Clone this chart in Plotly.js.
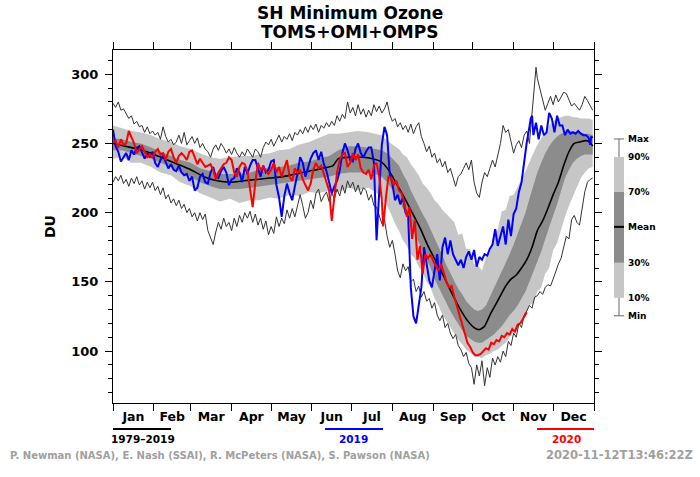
<!DOCTYPE html>
<html>
<head>
<meta charset="utf-8">
<script src="https://cdn.plot.ly/plotly-3.0.1.min.js"></script>
<style>
  html, body { margin: 0; padding: 0; background: #ffffff; }
  #chart { width: 700px; height: 477px; }
</style>
</head>
<body>
<div id="chart"></div>
<script>
// ---- Climatology 1979-2019: percentile envelope (DU) by day of year ----
const bandDays = [1,8,15,22,30,37,45,52,60,67,75,82,90,97,105,112,120,127,135,142,150,157,165,172,180,187,195,200,205,209,212,215,218,221,224,227,230,233,236,239,242,245,248,251,254,257,260,263,266,269,272,275,278,281,284,287,290,293,296,299,302,305,308,311,314,317,320,323,326,329,332,335,338,341,344,347,350,353,356,359,362,365];
const p10 = [239,240,236,236,233,229,227,222,219,214,211,208,210,207,209,209,211,210,213,212,215,214,216,215,218,216,218,215,211,205,199,192,187,180,176,170,167,161,157,150,146,138,133,126,122,117,113,108,105,101,99,96,96,95,97,98,100,101,104,106,110,114,115,123,125,133,135,143,146,156,160,173,178,188,197,205,212,219,225,229,232,233];
const p30 = [245,245,243,241,239,236,233,229,226,222,219,217,217,217,218,219,220,221,222,223,224,225,226,228,229,229,229,228,226,222,218,214,210,203,198,191,185,178,172,166,160,152,146,140,135,129,124,119,115,111,109,107,106,106,108,110,112,115,118,122,126,129,133,138,143,150,157,164,172,181,190,198,206,216,225,231,236,239,241,242,242,242];
const p70 = [254,253,251,250,247,244,241,238,236,232,230,228,228,228,229,231,233,233,234,236,237,239,241,245,248,248,247,246,245,243,240,237,234,228,223,216,210,205,199,194,188,182,176,169,162,156,150,145,141,136,133,130,129,130,133,139,145,151,157,164,170,177,185,193,200,210,220,229,236,243,248,252,255,257,258,259,259,258,258,257,257,256];
const p90 = [263,261,259,258,256,253,251,248,246,243,240,239,240,241,241,242,243,245,246,249,251,254,257,257,258,259,258,257,256,252,250,248,246,242,240,235,231,227,221,218,214,209,206,202,199,196,193,184,185,174,174,163,162,158,168,171,185,188,201,202,212,213,218,224,230,237,243,249,254,259,263,266,268,269,270,270,269,269,268,268,268,267];

// ---- Climatological mean ----
const meanDays = [1,10,20,30,40,50,60,70,80,90,100,110,120,130,140,150,160,168,172,180,190,198,204,210,216,222,228,234,240,246,252,258,264,270,275,279,283,287,291,295,299,303,307,311,315,319,323,327,331,335,339,343,347,351,355,360,363,365];
const meanDU = [250,248,246,243,239,235,231,226,223,222,223,224,225,226,228,230,232,234,239,240,240,239,237,231,221,211,200,189,176,165,154,142,131,122,117,115.5,118,126,133,140,147,152,155,160,166,175,187,194,203,213,222,234,244,250,251,252,251,248];

// ---- Record maximum 1979-2019 ----
const maxDays = [1,3,5,7,9,11,13,15,17,19,21,23,25,27,29,31,33,35,37,39,41,43,45,47,49,51,53,55,57,59,61,63,65,67,69,71,73,75,77,79,81,83,85,87,89,91,93,95,97,99,101,103,105,107,109,111,113,115,117,119,121,123,125,127,129,131,133,135,137,139,141,143,145,147,149,151,153,155,157,159,161,163,165,167,169,171,173,175,177,179,181,183,185,187,189,191,193,195,197,199,201,203,205,207,209,211,213,215,217,219,221,223,225,227,229,231,233,235,237,239,241,243,245,247,249,251,253,255,257,259,261,263,265,267,269,271,273,275,277,279,281,283,285,287,289,291,293,295,297,299,301,303,305,307,309,311,313,315,317,319,321,322,323,325,327,329,331,333,335,337,339,341,343,345,347,349,351,353,355,357,359,361,363,365];
const maxDU = [279,276,280,274,275,271,268,270,264,266,262,263,258,262,257,259,256,258,253,262,255,251,253,249,251,256,250,258,249,252,255,250,254,247,250,246,244,240,246,249,245,250,247,243,246,242,247,243,240,244,241,246,243,240,246,244,240,247,251,249,253,248,252,256,251,255,253,257,252,258,256,260,257,262,258,263,260,264,258,263,261,265,262,266,263,270,266,271,268,280,272,276,270,278,271,275,269,274,270,278,273,277,272,275,280,271,266,268,262,265,260,263,258,264,257,262,265,255,250,244,248,240,243,236,239,233,237,229,232,225,219,226,228,232,236,231,238,222,214,211,222,229,226,232,238,233,242,250,263,258,260,252,243,249,252,247,256,259,250,272,295,305,297,290,282,274,279,284,278,285,280,283,287,286,281,277,279,276,274,278,284,281,277,274];

// ---- Record minimum 1979-2019 ----
const minDays = [1,3,5,7,9,11,13,15,17,19,21,23,25,27,29,31,33,35,37,39,41,43,45,47,49,51,53,55,57,59,61,63,65,67,69,71,73,75,77,79,81,83,85,87,89,91,93,95,97,99,101,103,105,107,109,111,113,115,117,119,121,123,125,127,129,131,133,135,137,139,141,143,145,147,149,151,153,155,157,159,161,163,165,167,169,171,173,175,177,179,181,183,185,187,189,191,193,195,197,199,201,203,205,207,209,211,213,215,217,219,221,223,225,227,229,231,233,235,237,239,241,243,245,247,249,251,253,255,257,259,261,263,265,267,269,271,273,275,277,279,281,283,285,287,289,291,293,295,297,299,301,303,305,307,309,311,313,315,317,319,321,323,325,327,329,331,333,335,337,339,341,343,345,347,349,351,353,355,357,359,361,363,365];
const minDU = [222,226,223,227,221,224,219,225,221,226,220,223,217,222,218,222,216,219,213,218,210,213,207,210,205,209,203,206,200,203,197,200,194,200,195,199,187,182,177,186,193,188,196,190,193,187,196,190,198,193,200,196,201,193,199,191,196,188,194,184,190,185,197,190,196,192,202,196,203,197,206,213,205,196,200,209,203,214,217,208,212,215,208,214,210,217,212,220,214,223,218,222,215,220,213,218,216,209,213,205,204,198,192,195,183,175,180,170,158,153,163,158,161,150,152,143,147,139,143,136,138,131,135,126,122,126,117,120,113,109,112,104,101,96,99,91,88,76,90,82,93,75,88,81,95,90,96,92,100,96,107,104,113,110,120,117,126,129,133,131,139,140,143,141,146,148,147,152,158,163,167,175,183,181,195,198,193,191,204,215,222,224,225];

// ---- 2019 ----
const y2019Days = [1,3,5,7,9,11,13,15,17,19,21,23,25,27,29,31,33,35,37,39,41,43,45,47,49,51,53,55,57,59,61,63,65,67,69,71,73,75,77,79,81,83,85,87,89,91,93,95,97,99,101,103,105,107,109,111,113,115,117,119,121,123,125,127,129,131,133,135,137,139,141,143,145,147,149,151,153,155,157,159,161,163,165,167,169,171,173,175,177,179,181,183,185,187,189,191,193,195,197,199,201,203,205,207,209,211,213,215,217,219,221,223,225,227,229,231,233,235,237,239,241,243,245,247,249,251,253,255,257,259,261,263,265,267,269,271,273,275,277,279,281,283,285,287,289,291,293,295,297,299,301,303,305,307,309,311,313,315,317,318,319,320,322,324,326,328,330,332,334,336,338,340,342,344,346,348,350,352,354,356,358,360,362,363,364,365];
const y2019DU = [260,248,244,237,240,243,238,245,242,247,248,244,239,243,240,244,236,233,238,241,236,232,235,231,230,234,229,227,228,223,226,216,218,226,228,222,221,229,233,226,225,230,233,229,220,224,225,232,229,222,233,228,234,238,238,232,226,234,229,231,237,238,220,211,197,212,221,214,209,219,228,240,236,226,232,239,243,245,238,244,235,230,222,214,219,223,230,243,250,245,238,237,246,250,243,240,244,247,247,236,180,215,249,262,256,228,221,209,213,206,211,200,197,146,125,120,132,146,175,163,151,146,160,170,151,175,182,170,180,170,166,162,166,160,168,172,166,173,161,168,166,170,169,174,177,188,176,183,190,177,195,183,199,203,215,222,237,251,262,268,270,256,265,253,263,256,258,272,268,258,270,263,263,256,260,257,258,257,259,257,256,256,254,249,255,254];

// ---- 2020 (through mid-November) ----
const y2020Days = [1,3,5,7,9,11,13,15,17,19,21,23,25,27,29,31,33,35,37,39,41,43,45,47,49,51,53,55,57,59,61,63,65,67,69,71,73,75,77,79,81,83,85,87,89,91,93,95,97,99,101,103,105,107,109,111,113,115,117,119,121,123,125,127,129,131,133,135,137,139,141,143,145,147,149,151,153,155,157,159,161,163,165,167,169,171,173,175,177,179,181,183,185,187,189,191,193,195,197,199,201,203,205,206,208,210,212,214,216,218,220,222,224,226,228,230,232,234,236,238,240,242,244,246,248,250,252,254,256,258,260,262,264,266,268,270,272,274,276,278,280,282,284,286,288,290,292,294,296,298,300,302,304,306,308,310,312,314,315];
const y2020DU = [251,252,247,253,249,250,259,255,250,243,246,248,244,240,242,240,244,246,242,243,238,244,246,240,236,241,243,241,238,244,245,240,235,239,236,233,234,235,231,224,229,232,235,236,240,238,229,226,233,236,235,230,216,204,222,236,231,233,230,228,231,236,229,233,226,233,238,226,223,232,229,231,224,220,216,221,231,236,232,234,228,221,216,194,212,229,238,242,243,233,236,243,238,242,232,229,228,231,224,234,236,226,209,190,210,226,225,220,223,216,214,207,197,204,181,195,166,176,156,170,167,170,165,162,158,163,156,150,146,147,139,132,125,120,113,106,103,99,97,97,98,100,102,101,106,105,108,107,111,110,113,112,116,114,119,120,123,126,128];

// ---- Axis labelling ----
const monthStarts = [1,32,60,91,121,152,182,213,244,274,305,335,366];
const monthNames = ['Jan','Feb','Mar','Apr','May','Jun','Jul','Aug','Sep','Oct','Nov','Dec'];
const monthMids = monthNames.map((_, i) => (monthStarts[i] + monthStarts[i + 1]) / 2);
const keyLabels = ['Max','90%','70%','Mean','30%','10%','Min'];
const seriesLabels = ['1979\u20132019','2019','2020'];
const seriesColors = ['#000000','#0000ff','#ff0000'];

const FONT = 'DejaVu Sans, Liberation Sans, Arial, sans-serif';
const LIGHT = '#c6c6c6';
const DARK = '#8c8c8c';
const X_RANGE = [1, 366];
const Y_RANGE = [62.5, 317.5];
const bold = (size, color) => ({ family: FONT, size: size, color: color || '#000', weight: 'bold' });

const noHover = { hoverinfo: 'skip', showlegend: false };

const traces = [
  Object.assign({ x: bandDays, y: p10, mode: 'lines', line: { width: 0, color: LIGHT } }, noHover),
  Object.assign({ x: bandDays, y: p90, mode: 'lines', line: { width: 0, color: LIGHT }, fill: 'tonexty', fillcolor: LIGHT }, noHover),
  Object.assign({ x: bandDays, y: p30, mode: 'lines', line: { width: 0, color: DARK } }, noHover),
  Object.assign({ x: bandDays, y: p70, mode: 'lines', line: { width: 0, color: DARK }, fill: 'tonexty', fillcolor: DARK }, noHover),
  Object.assign({ x: maxDays, y: maxDU, mode: 'lines', line: { width: 1, color: '#333333' } }, noHover),
  Object.assign({ x: minDays, y: minDU, mode: 'lines', line: { width: 1, color: '#333333' } }, noHover),
  Object.assign({ x: meanDays, y: meanDU, mode: 'lines', line: { width: 1.6, color: '#000000', shape: 'spline', smoothing: 0.6 } }, noHover),
  Object.assign({ x: y2019Days, y: y2019DU, mode: 'lines', line: { width: 2, color: seriesColors[1] } }, noHover),
  Object.assign({ x: y2020Days, y: y2020DU, mode: 'lines', line: { width: 2, color: seriesColors[2] } }, noHover),
  // month names centred in each month, drawn on an overlaid axis
  Object.assign({ x: [X_RANGE[0]], y: [Y_RANGE[0]], xaxis: 'x2', mode: 'markers', marker: { opacity: 0 } }, noHover)
];

// key on the right: whiskers, shaded blocks and the mean tick
const keyY = [0.748, 0.697, 0.598, 0.499, 0.397, 0.298, 0.247];
const kx0 = 1.0416, kx1 = 1.0624, kxm = 1.052;
const shapes = [
  { type: 'rect', xref: 'paper', yref: 'paper', x0: kx0, x1: kx1, y0: keyY[2], y1: keyY[1], fillcolor: LIGHT, line: { width: 0 } },
  { type: 'rect', xref: 'paper', yref: 'paper', x0: kx0, x1: kx1, y0: keyY[4], y1: keyY[2], fillcolor: DARK, line: { width: 0 } },
  { type: 'rect', xref: 'paper', yref: 'paper', x0: kx0, x1: kx1, y0: keyY[5], y1: keyY[4], fillcolor: LIGHT, line: { width: 0 } },
  { type: 'line', xref: 'paper', yref: 'paper', x0: kx0, x1: kx1, y0: keyY[3], y1: keyY[3], line: { color: '#000', width: 2 } },
  { type: 'line', xref: 'paper', yref: 'paper', x0: kxm, x1: kxm, y0: keyY[1], y1: keyY[0], line: { color: '#666', width: 1 } },
  { type: 'line', xref: 'paper', yref: 'paper', x0: kxm, x1: kxm, y0: keyY[6], y1: keyY[5], line: { color: '#666', width: 1 } },
  { type: 'line', xref: 'paper', yref: 'paper', x0: kx0, x1: kx1, y0: keyY[0], y1: keyY[0], line: { color: '#666', width: 1 } },
  { type: 'line', xref: 'paper', yref: 'paper', x0: kx0, x1: kx1, y0: keyY[6], y1: keyY[6], line: { color: '#666', width: 1 } },
  // series swatches under the axis
  { type: 'line', xref: 'paper', yref: 'paper', x0: 0, x1: 0.1206, y0: -0.0737, y1: -0.0737, line: { color: seriesColors[0], width: 2 } },
  { type: 'line', xref: 'paper', yref: 'paper', x0: 0.4407, x1: 0.5613, y0: -0.0737, y1: -0.0737, line: { color: seriesColors[1], width: 2 } },
  { type: 'line', xref: 'paper', yref: 'paper', x0: 0.8815, x1: 1.0, y0: -0.0737, y1: -0.0737, line: { color: seriesColors[2], width: 2 } }
];

const annotations = [
  { text: 'SH Minimum Ozone', xref: 'paper', yref: 'paper', x: 0.4927, y: 1.1034, xanchor: 'center', yanchor: 'middle', showarrow: false, font: bold(17) },
  { text: 'TOMS+OMI+OMPS', xref: 'paper', yref: 'paper', x: 0.4927, y: 1.0510, xanchor: 'center', yanchor: 'middle', showarrow: false, font: bold(17) },
  { text: 'P. Newman (NASA), E. Nash (SSAI), R. McPeters (NASA), S. Pawson (NASA)', xref: 'paper', yref: 'paper', x: -0.2183, y: -0.1487, xanchor: 'left', yanchor: 'middle', showarrow: false, font: bold(10, '#a0a0a0') },
  { text: '2020-11-12T13:46:22Z', xref: 'paper', yref: 'paper', x: 1.21, y: -0.1487, xanchor: 'right', yanchor: 'middle', showarrow: false, font: bold(11.5, '#a0a0a0') }
];
const seriesTextX = [0.0624, 0.501, 0.9418];
seriesLabels.forEach((t, i) => annotations.push({
  text: t, xref: 'paper', yref: 'paper', x: seriesTextX[i], y: -0.102, xanchor: 'center', yanchor: 'middle',
  showarrow: false, font: bold(10.5, seriesColors[i])
}));
keyLabels.forEach((t, i) => annotations.push({
  text: t, xref: 'paper', yref: 'paper', x: 1.0665, y: keyY[i], xanchor: 'left', yanchor: 'middle',
  showarrow: false, font: bold(9)
}));

const layout = {
  width: 700, height: 477,
  margin: { l: 113, r: 106, t: 50, b: 74, pad: 0 },
  paper_bgcolor: '#ffffff', plot_bgcolor: '#ffffff',
  font: bold(12),
  showlegend: false,
  xaxis: {
    range: X_RANGE, tickmode: 'array', tickvals: monthStarts, ticktext: monthStarts.map(() => ''),
    ticks: 'outside', ticklen: 7, tickcolor: '#000', tickwidth: 1,
    showline: true, linecolor: '#000', linewidth: 1, mirror: 'ticks',
    showgrid: false, zeroline: false, fixedrange: true
  },
  xaxis2: {
    overlaying: 'x', side: 'bottom', range: X_RANGE, tickmode: 'array', tickvals: monthMids, ticktext: monthNames,
    ticks: '', showline: false, showgrid: false, zeroline: false,
    tickfont: bold(12.5), ticklabelstandoff: 4
  },
  yaxis: {
    range: Y_RANGE, tickmode: 'linear', tick0: 0, dtick: 50,
    ticks: 'outside', ticklen: 7, tickcolor: '#000', tickwidth: 1,
    minor: { dtick: 10, tick0: 0, ticks: 'outside', ticklen: 4, tickcolor: '#000', showgrid: false },
    showline: true, linecolor: '#000', linewidth: 1, mirror: 'ticks',
    showgrid: false, zeroline: false,
    tickfont: bold(13), ticklabelstandoff: 4,
    title: { text: 'DU', font: bold(14), standoff: 12 }
  },
  shapes: shapes,
  annotations: annotations
};

Plotly.newPlot('chart', traces, layout, { staticPlot: true, displayModeBar: false });
</script>
</body>
</html>
